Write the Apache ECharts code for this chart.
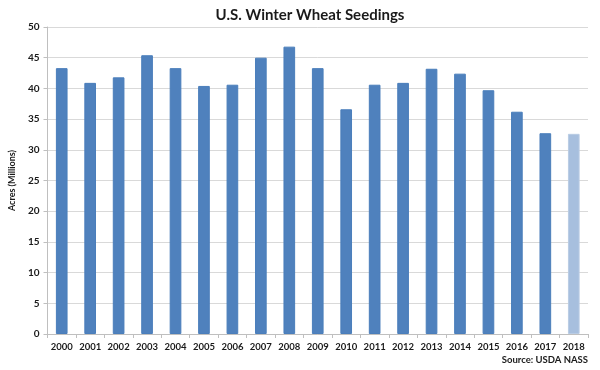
<!DOCTYPE html>
<html><head><meta charset="utf-8">
<script src="https://cdn.jsdelivr.net/npm/echarts@6/dist/echarts.min.js"></script>
<style>html,body{margin:0;padding:0;background:#fff}#c{width:600px;height:370px}</style>
</head><body><div id="c"></div>
<script>
const years = ['2000','2001','2002','2003','2004','2005','2006','2007','2008','2009','2010','2011','2012','2013','2014','2015','2016','2017','2018'];
const acres = [43.3,40.9,41.8,45.4,43.3,40.4,40.6,45.0,46.8,43.3,36.6,40.6,40.9,43.2,42.4,39.7,36.2,32.7,32.6];
const projectedYear = '2018';
const yTicks = [0,5,10,15,20,25,30,35,40,45,50];

const FONT = 'Lato, "Open Sans", sans-serif';
const chart = echarts.init(document.getElementById('c'), null, {renderer:'canvas'});
chart.setOption({
  backgroundColor:'#fff',
  animation:false,
  title:{
    text:'U.S. Winter Wheat Seedings',
    left:305, top:3, textAlign:'center',
    textStyle:{fontFamily:FONT,fontWeight:'bold',fontSize:15,color:'#1a1a1a'}
  },
  graphic:[{
    type:'text', right:12, top:355,
    style:{text:'Source: USDA NASS', font:'bold 9.5px '+FONT, fill:'#1a1a1a', textAlign:'right'}
  }],
  grid:{left:43,right:12,top:27,bottom:36},
  xAxis:{
    type:'category', data:years,
    axisLine:{lineStyle:{color:'#BFBFBF'}},
    axisTick:{show:true,alignWithLabel:false,interval:0,length:4,lineStyle:{color:'#BFBFBF'}},
    axisLabel:{interval:0,fontFamily:FONT,fontWeight:'bold',fontSize:9.5,color:'#1a1a1a',margin:8}
  },
  yAxis:{
    type:'value', min:yTicks[0], max:yTicks[yTicks.length-1], interval:5,
    name:'Acres (Millions)', nameLocation:'middle', nameGap:28,
    nameTextStyle:{fontFamily:FONT,fontWeight:'bold',fontSize:9,color:'#1a1a1a'},
    axisLine:{show:true,lineStyle:{color:'#BFBFBF'}},
    axisTick:{show:true,length:4,lineStyle:{color:'#BFBFBF'}},
    splitLine:{lineStyle:{color:'#D9D9D9',width:1}},
    axisLabel:{fontFamily:FONT,fontWeight:'bold',fontSize:10,color:'#1a1a1a',margin:8}
  },
  series:[{
    type:'bar', barWidth:'41%',
    data: acres.map((v,i)=>({
      value:v,
      itemStyle: years[i]===projectedYear
        ? {color:'#A7BFDE',borderColor:'#B9CCE4',borderWidth:1}
        : {color:'#4F81BD',borderColor:'#4A7EBB',borderWidth:1}
    }))
  }]
});
</script></body></html>
